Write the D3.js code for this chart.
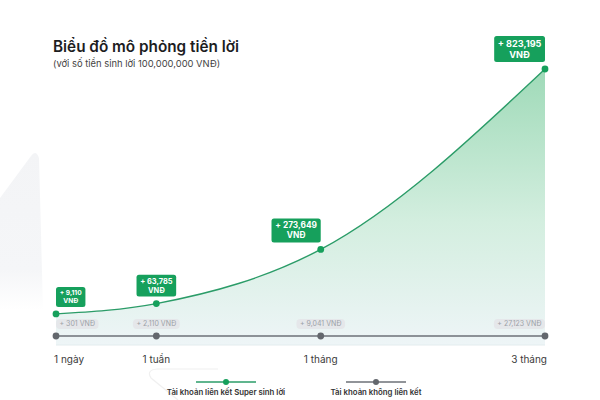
<!DOCTYPE html>
<html><head><meta charset="utf-8">
<script src="https://cdn.jsdelivr.net/npm/d3@7"></script>
<style>body{margin:0;background:#fff}svg{display:block}</style>
</head><body>
<svg id="c" width="600" height="400"></svg>
<script>
// ---- data ----
const categories = ["1 ngày", "1 tuần", "1 tháng", "3 tháng"];
const days = [1, 7, 30, 90];
const superValues = [9110, 63785, 273649, 823195];
const normalValues = [301, 2110, 9041, 27123];
const legendLabels = ["Tài khoản liên kết Super sinh lời", "Tài khoản không liên kết"];
const title = "Biểu đồ mô phỏng tiền lời";
const subtitle = "(với số tiền sinh lời 100,000,000 VNĐ)";

const fmt = d3.format(",");
const FONT = "Inter, 'Noto Sans', sans-serif";
const GREEN = "#16a05c", LINE = "#2b9c68", GREY = "#63676d";

const svg = d3.select("#c");
const defs = svg.append("defs");
const grad = defs.append("linearGradient").attr("id", "fill")
  .attr("gradientUnits", "userSpaceOnUse").attr("x1", 0).attr("x2", 0).attr("y1", 69).attr("y2", 345);
grad.append("stop").attr("offset", 0).attr("stop-color", "#9fdab8");
grad.append("stop").attr("offset", 0.55).attr("stop-color", "#d3eedf");
grad.append("stop").attr("offset", 1).attr("stop-color", "#eef5f7");
const bgGrad = defs.append("linearGradient").attr("id", "bgshape")
  .attr("gradientUnits", "userSpaceOnUse").attr("x1", 0).attr("x2", 0).attr("y1", 150).attr("y2", 310);
bgGrad.append("stop").attr("offset", 0).attr("stop-color", "#f3f4f6");
bgGrad.append("stop").attr("offset", 0.75).attr("stop-color", "#f5f6f8");
bgGrad.append("stop").attr("offset", 1).attr("stop-color", "#ffffff");

// decorative background shapes
svg.append("path").attr("d", "M0,198 L31,156 Q36,149 39,158 L43,310 L0,310 Z").attr("fill", "url(#bgshape)");
svg.append("path").attr("d", "M178,400 L151,378 Q146,370 157,369 L218,369").attr("fill", "none")
  .attr("stroke", "#f0f0f0").attr("stroke-width", 1.2);

// scales
const x = d3.scalePow().exponent(0.47).domain([1, 90]).range([56, 545]);
const y = d3.scalePow().exponent(1.2).domain([0, d3.max(superValues)]).range([315, 69]);
const axisY = 336, areaBottom = 345;

const pts = days.map((d, i) => ({ d, v: superValues[i], n: normalValues[i], c: categories[i], i }));

// area + line
svg.append("path").datum(pts)
  .attr("d", d3.area().x(p => x(p.d)).y0(areaBottom).y1(p => y(p.v)).curve(d3.curveMonotoneX))
  .attr("fill", "url(#fill)");
svg.append("line").attr("x1", x(1)).attr("x2", x(90)).attr("y1", areaBottom).attr("y2", areaBottom)
  .attr("stroke", "#e3ecee").attr("stroke-width", 1);
svg.append("path").datum(pts)
  .attr("d", d3.line().x(p => x(p.d)).y(p => y(p.v)).curve(d3.curveMonotoneX))
  .attr("fill", "none").attr("stroke", LINE).attr("stroke-width", 1.4);

// grey baseline series
svg.append("line").attr("x1", x(1)).attr("x2", x(90)).attr("y1", axisY).attr("y2", axisY)
  .attr("stroke", "#6d7177").attr("stroke-width", 1.4);
svg.selectAll("circle.g").data(pts).join("circle").attr("class", "g")
  .attr("cx", p => x(p.d)).attr("cy", axisY).attr("r", 3.4).attr("fill", GREY);

// grey labels
pts.forEach(p => {
  const g = svg.append("g");
  const t = g.append("text").text("+ " + fmt(p.n) + " VNĐ")
    .attr("font-family", FONT).attr("font-size", 7).attr("fill", "#9ca1a7");
  const bb = t.node().getBBox();
  const w = bb.width + 7, h = 10;
  const cx = x(p.d);
  let left = p.i === 0 ? cx : (p.i === 3 ? cx - w : cx - w / 2);
  const top = axisY - 7 - h;
  g.insert("rect", "text").attr("x", left).attr("y", top).attr("width", w).attr("height", h)
    .attr("rx", 4).attr("fill", "#e5e7ea");
  t.attr("x", left + w / 2).attr("y", top + h / 2 + 2.4).attr("text-anchor", "middle");
});

// green points
svg.selectAll("circle.s").data(pts).join("circle").attr("class", "s")
  .attr("cx", p => x(p.d)).attr("cy", p => y(p.v)).attr("r", 3.4).attr("fill", GREEN);

// green labels
pts.forEach(p => {
  const fs = 6.6 + p.i * 0.85;
  const lh = fs * 1.2;
  const g = svg.append("g");
  const t = g.append("text").attr("font-family", FONT).attr("font-size", fs)
    .attr("font-weight", 700).attr("fill", "#fff").attr("text-anchor", "middle");
  t.append("tspan").text("+ " + fmt(p.v));
  const w = t.node().getBBox().width + 7;
  const h = lh * 2 + 4;
  const cx = x(p.d), cy = y(p.v);
  let left = p.i === 0 ? cx : (p.i === 1 ? cx - w / 2 : cx - w);
  const top = cy - 7 - h;
  g.insert("rect", "text").attr("x", left).attr("y", top).attr("width", w).attr("height", h)
    .attr("rx", 2.5).attr("fill", GREEN);
  t.select("tspan").attr("x", left + w / 2).attr("y", top + 2 + fs * 0.95);
  t.append("tspan").text("VNĐ").attr("x", left + w / 2).attr("y", top + 2 + fs * 0.95 + lh);
});

// x labels
svg.selectAll("text.x").data(pts).join("text").attr("class", "x")
  .attr("x", p => p.i === 0 ? x(p.d) - 2 : (p.i === 3 ? x(p.d) + 2 : x(p.d)))
  .attr("y", 363)
  .attr("text-anchor", p => p.i === 0 ? "start" : (p.i === 3 ? "end" : "middle"))
  .attr("font-family", FONT).attr("font-size", 10).attr("fill", "#3c3c3c")
  .text(p => p.c);

// title
svg.append("text").attr("x", 53).attr("y", 52).text(title)
  .attr("font-family", FONT).attr("font-size", 15.3).attr("font-weight", 600).attr("fill", "#1d1d1f");
svg.append("text").attr("x", 53).attr("y", 67).text(subtitle)
  .attr("font-family", FONT).attr("font-size", 9.4).attr("fill", "#444");

// legend
const legendColors = [GREEN, GREY];
const legendLine = [LINE, "#6d7177"];
const lx = d3.scalePoint().domain(legendLabels).range([226, 376]);
legendLabels.forEach((lab, i) => {
  const cx = lx(lab);
  svg.append("line").attr("x1", cx - 30).attr("x2", cx + 30).attr("y1", 382).attr("y2", 382)
    .attr("stroke", legendLine[i]).attr("stroke-width", 1.4);
  svg.append("circle").attr("cx", cx).attr("cy", 382).attr("r", 3).attr("fill", legendColors[i]);
  svg.append("text").attr("x", cx).attr("y", 395).attr("text-anchor", "middle")
    .attr("font-family", FONT).attr("font-size", 7.8).attr("font-weight", 600).attr("fill", "#333").text(lab);
});
</script>
</body></html>
